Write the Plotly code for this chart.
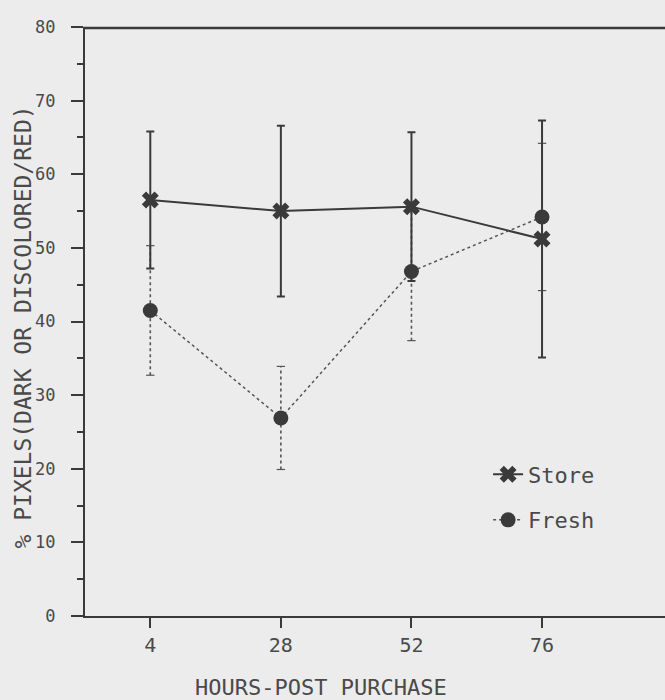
import plotly.graph_objects as go

hours = [4, 28, 52, 76]
tick_labels = ["4", "28", "52", "76"]
store = [56.5, 55.0, 55.6, 51.2]
store_err = [9.3, 11.6, 10.1, 16.1]
fresh = [41.5, 26.9, 46.8, 54.2]
fresh_err = [8.8, 7.0, 9.4, 10.0]

INK = "#3a3a3a"
TXT = "#4a4a4a"
FONT = "DejaVu Sans Mono"
BG = "#ececec"

fig = go.Figure()

# Fresh dotted error bars (built from data)
ex, ey = [], []
cx, cy = [], []
for h, v, e in zip(hours, fresh, fresh_err):
    ex += [h, h, None]
    ey += [v - e, v + e, None]
    cx += [h, h]
    cy += [v - e, v + e]
fig.add_trace(go.Scatter(x=ex, y=ey, mode="lines", showlegend=False, hoverinfo="skip",
                         line=dict(color="#555555", width=1.6, dash="dot")))
fig.add_trace(go.Scatter(x=cx, y=cy, mode="markers", showlegend=False, hoverinfo="skip",
                         marker=dict(symbol="line-ew", size=6, line=dict(color="#555555", width=1.2))))

fig.add_trace(go.Scatter(
    x=hours, y=store, name="Store", mode="lines+markers",
    line=dict(color=INK, width=2),
    marker=dict(symbol="x", size=15, color=INK),
    error_y=dict(type="data", array=store_err, visible=True, color=INK, thickness=2, width=4),
    legendgroup="a",
))
fig.add_trace(go.Scatter(
    x=hours, y=fresh, name="Fresh", mode="lines+markers",
    line=dict(color="#555555", width=1.5, dash="dot"),
    marker=dict(symbol="circle", size=15, color=INK),
    legendgroup="b",
))

fig.update_layout(
    width=665, height=700,
    margin=dict(l=85, r=0, t=27, b=84, autoexpand=False),
    paper_bgcolor=BG, plot_bgcolor=BG,
    font=dict(family=FONT, color=TXT),
    showlegend=True,
    legend=dict(x=0.695, y=0.276, xanchor="left", yanchor="top",
                bgcolor="rgba(0,0,0,0)", font=dict(size=22, family=FONT, color=TXT),
                tracegroupgap=14, traceorder="grouped"),
    xaxis=dict(range=[-8, 98.6], tickvals=hours, ticktext=tick_labels, automargin=False,
               showgrid=False, zeroline=False, showline=True, linecolor=INK, linewidth=2,
               mirror=False, ticks="outside", ticklen=10, tickwidth=2, tickcolor=INK,
               tickfont=dict(size=20, family=FONT, color=TXT)),
    yaxis=dict(range=[0, 80], dtick=10, showgrid=False, zeroline=False, automargin=False,
               showline=True, linecolor=INK, linewidth=2, mirror=False,
               ticks="outside", ticklen=12, tickwidth=2, tickcolor=INK,
               ticklabelstandoff=12,
               minor=dict(dtick=5, ticks="outside", ticklen=6, tickwidth=2, tickcolor=INK),
               tickfont=dict(size=17, family=FONT, color=TXT)),
    shapes=[
        dict(type="line", xref="paper", yref="paper", x0=-0.003, x1=1.0, y0=0.9985, y1=0.9985,
             line=dict(color=INK, width=2.5), layer="above"),
    ],
    annotations=[
        dict(text="HOURS-POST PURCHASE", xref="paper", yref="paper",
             x=(321 - 85) / 580, y=-(687 - 616) / 589, xanchor="center", yanchor="middle",
             showarrow=False, font=dict(size=22, family=FONT, color=TXT)),
        dict(text="% PIXELS(DARK OR DISCOLORED/RED)", xref="paper", yref="paper",
             x=-(85 - 22.5) / 580, y=(616 - 327) / 589, xanchor="center", yanchor="middle",
             textangle=-90, showarrow=False, font=dict(size=23, family=FONT, color=TXT)),
    ],
)

fig.write_html(
    "out.html",
    config={"displayModeBar": False},
    post_script="document.body.style.margin='0';document.body.style.overflow='hidden';",
)
